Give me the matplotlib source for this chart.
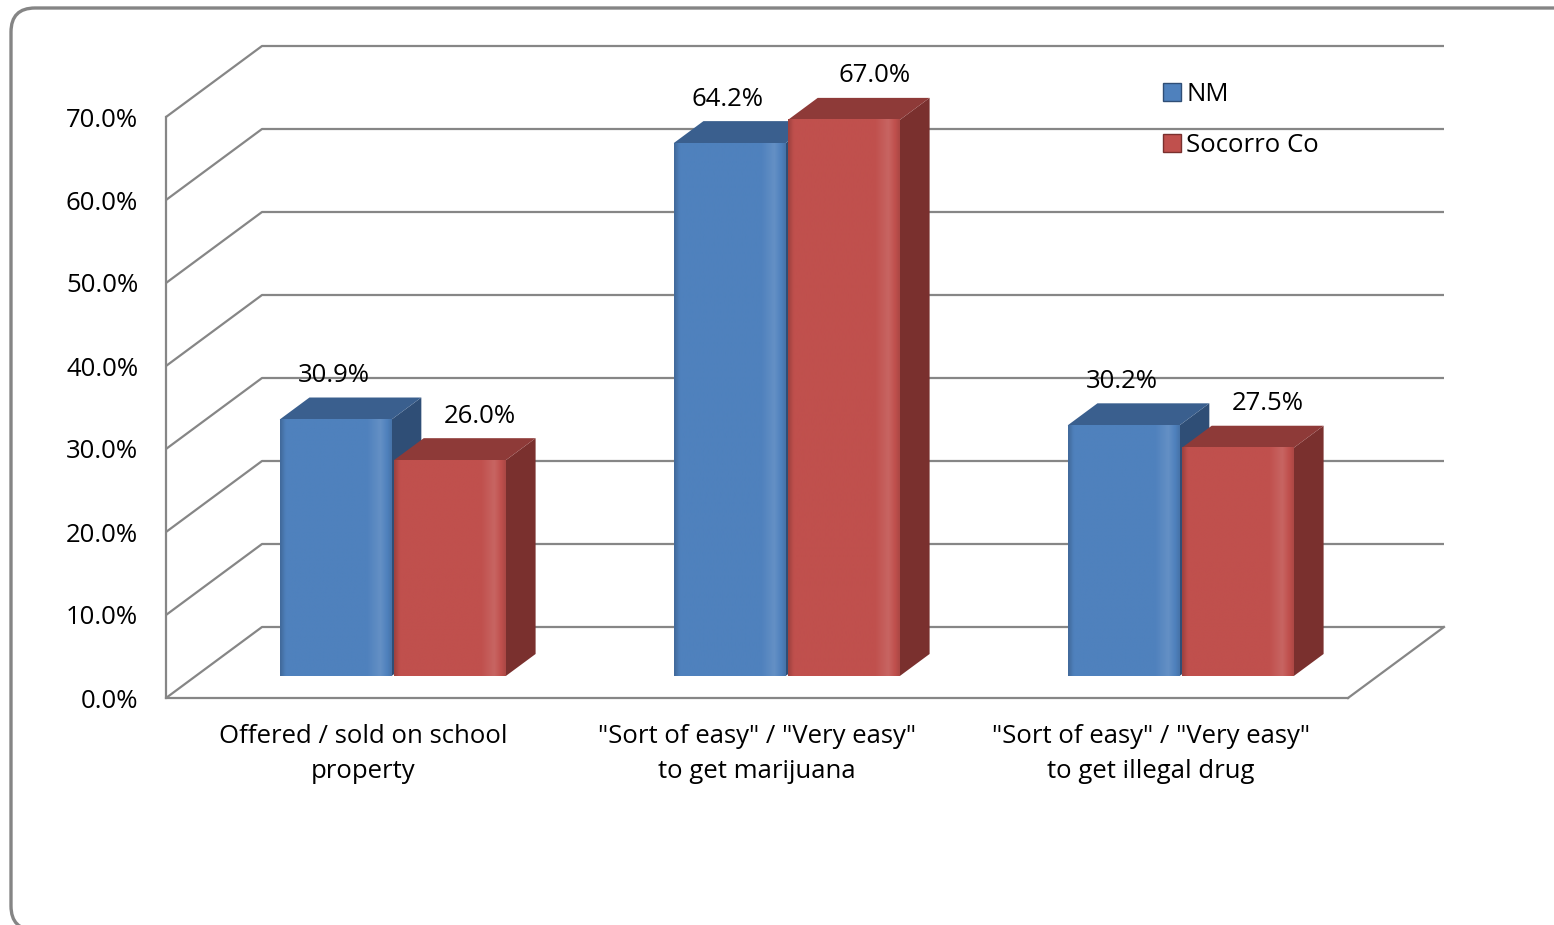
import matplotlib
matplotlib.use("Agg")
import matplotlib.pyplot as plt
import numpy as np
from matplotlib.colors import LinearSegmentedColormap, to_rgb
from matplotlib.patches import FancyBboxPatch, Patch, Polygon

plt.rcParams["font.family"] = ["Open Sans", "DejaVu Sans"]

categories = [
    "Offered / sold on school\nproperty",
    "\"Sort of easy\" / \"Very easy\"\nto get marijuana",
    "\"Sort of easy\" / \"Very easy\"\nto get illegal drug",
]
series_names = ["NM", "Socorro Co"]
nm_values = [30.9, 64.2, 30.2]
socorro_values = [26.0, 67.0, 27.5]
y_ticks = [0, 10, 20, 30, 40, 50, 60, 70]

W, H = 1554, 925
fig = plt.figure(figsize=(W / 100, H / 100), dpi=100)

# background frame with rounded corners
bg = fig.add_axes([0, 0, 1, 1])
bg.set_xlim(0, W)
bg.set_ylim(H, 0)
bg.axis("off")
bg.add_patch(FancyBboxPatch((11, 8), 1575, 922, boxstyle="round,pad=0,rounding_size=24",
                            facecolor="white", edgecolor="#858585", linewidth=2.4))

# front plane of the 3D box: x in category units, y in percent
x0, x1, y0, y1 = 166, 1348, 698, 117
ax = fig.add_axes([x0 / W, (H - y0) / H, (x1 - x0) / W, (y0 - y1) / H])
ax.set_facecolor("none")
ax.set_xlim(0, 3)
ax.set_ylim(0, 70)

DX = 96 / ((x1 - x0) / 3)          # depth offset, category units
DY = 71 / ((y0 - y1) / 70)         # depth offset, percent units
grid_color = "#868686"
fs = 18.5

# walls / gridlines
for v in y_ticks:
    ax.plot([0, DX, 3 + DX], [v, v + DY, v + DY], color=grid_color, lw=1.6,
            clip_on=False, zorder=1, solid_capstyle="butt")
ax.plot([3 + DX, 3], [DY, 0], color=grid_color, lw=1.6, clip_on=False, zorder=1)

for s in ["top", "right"]:
    ax.spines[s].set_visible(False)
for s in ["left", "bottom"]:
    ax.spines[s].set_color(grid_color)
    ax.spines[s].set_linewidth(1.6)

ax.set_yticks(y_ticks)
ax.set_yticklabels([f"{v:.1f}%" for v in y_ticks])
ax.set_xticks([0.5, 1.5, 2.5])
ax.set_xticklabels(categories, linespacing=1.5)
ax.tick_params(axis="y", length=0, pad=20, labelsize=fs)
ax.tick_params(axis="x", length=0, pad=19, labelsize=fs)

colors = {
    "NM": {"front": "#4F81BD", "top": "#3A5F8E", "side": "#2F4E76"},
    "Socorro Co": {"front": "#C0504D", "top": "#8E3A38", "side": "#7A302E"},
}

bar_w = 0.284
d0, d1 = 0.31, 0.62


def shade(c, f):
    r, g, b = to_rgb(c)
    if f < 1:
        return (r * f, g * f, b * f)
    return (r + (1 - r) * (f - 1), g + (1 - g) * (f - 1), b + (1 - b) * (f - 1))


def draw_bar(left, value, name):
    col = colors[name]
    fx0 = left + d0 * DX
    fx1 = fx0 + bar_w
    fy0 = d0 * DY
    fy1 = value + d0 * DY
    ddx = (d1 - d0) * DX
    ddy = (d1 - d0) * DY
    side = Polygon([(fx1, fy0), (fx1 + ddx, fy0 + ddy), (fx1 + ddx, fy1 + ddy), (fx1, fy1)],
                   closed=True, facecolor=col["side"], edgecolor="none", zorder=3, clip_on=False)
    top = Polygon([(fx0, fy1), (fx1, fy1), (fx1 + ddx, fy1 + ddy), (fx0 + ddx, fy1 + ddy)],
                  closed=True, facecolor=col["top"], edgecolor="none", zorder=3, clip_on=False)
    ax.add_patch(side)
    ax.add_patch(top)
    base = col["front"]
    cmap = LinearSegmentedColormap.from_list(
        name, [(0, shade(base, 0.82)), (0.05, base), (0.78, base),
               (0.9, shade(base, 1.12)), (0.96, base), (1, shade(base, 0.9))])
    grad = np.linspace(0, 1, 200)[None, :]
    ax.imshow(grad, cmap=cmap, extent=(fx0, fx1, fy0, fy1), aspect="auto",
              zorder=4, clip_on=False, interpolation="bilinear")


centers = [0.5, 1.5, 2.5]
for i, c in enumerate(centers):
    for name, vals, side_sign, lab_dx in [("NM", nm_values, -1, 28), ("Socorro Co", socorro_values, 1, 60)]:
        left = c - bar_w - 0.003 if side_sign < 0 else c + 0.003
        draw_bar(left, vals[i], name)
        ax.annotate(f"{vals[i]:.1f}%", (left + bar_w / 2, vals[i]), xytext=(lab_dx, 66),
                    textcoords="offset pixels", ha="center", va="center",
                    fontsize=fs, zorder=6, annotation_clip=False)

ax.set_xlim(0, 3)
ax.set_ylim(0, 70)

handles = [Patch(facecolor=colors[n]["front"], edgecolor=colors[n]["side"], linewidth=1.0)
           for n in series_names]
ax.legend(handles, series_names, loc="upper left", bbox_to_anchor=(1140 / W, (H - 59) / H),
          bbox_transform=fig.transFigure, frameon=False, fontsize=fs,
          handlelength=0.7, handleheight=0.7, handletextpad=0.2, labelspacing=1.0)

fig.savefig("out.png", dpi=100)
